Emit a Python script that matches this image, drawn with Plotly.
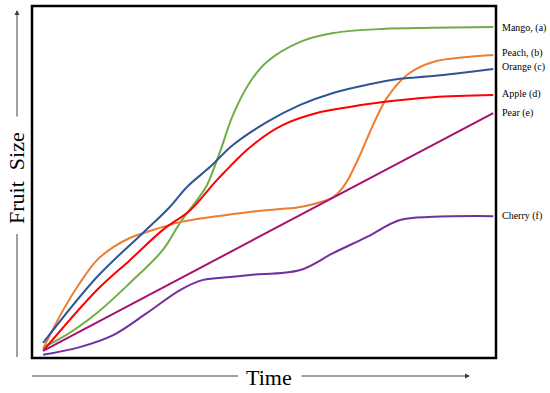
import plotly.graph_objects as go

# ---- data (time, size in 0-100 units) ----
mango_x = [2.4, 6.7, 14.0, 21.1, 28.2, 31.9, 35.6, 37.7, 40.5, 43.3, 47.0, 50.6, 57.8, 64.9, 75.6, 86.4, 99.4]
mango_y = [3.1, 6.0, 12.8, 21.3, 30.7, 38.4, 44.9, 49.1, 58.5, 69.0, 78.4, 84.1, 89.8, 92.3, 93.5, 93.8, 94.0]

peach_x = [2.4, 6.7, 10.3, 14.0, 17.5, 21.1, 24.8, 31.9, 39.0, 47.0, 53.4, 57.8, 64.9, 67.5, 70.7, 73.5, 76.5, 80.8, 86.4, 93.8, 99.4]
peach_y = [2.6, 13.6, 21.3, 27.8, 31.5, 34.1, 35.8, 38.6, 40.1, 41.5, 42.3, 42.9, 45.7, 49.4, 57.7, 66.2, 73.9, 80.4, 84.1, 85.5, 86.1]

orange_x = [2.4, 14.0, 23.9, 29.7, 33.4, 38.4, 43.3, 50.6, 57.8, 64.9, 72.2, 79.3, 86.4, 99.4]
orange_y = [4.3, 23.0, 35.5, 42.9, 48.6, 54.3, 60.5, 67.0, 71.9, 75.3, 77.6, 79.3, 80.1, 82.1]

apple_x = [2.4, 14.0, 21.1, 28.2, 34.1, 39.9, 47.0, 54.1, 61.4, 68.5, 75.6, 86.4, 99.4]
apple_y = [2.0, 19.3, 27.8, 36.4, 42.0, 50.6, 59.9, 66.2, 69.6, 71.3, 72.7, 74.1, 74.7]

pear_x = [2.4, 99.4]
pear_y = [2.0, 69.6]

cherry_x = [2.4, 10.3, 17.5, 24.8, 31.9, 36.9, 42.7, 47.0, 57.8, 64.9, 72.2, 79.3, 86.4, 99.4]
cherry_y = [0.9, 3.1, 6.5, 12.8, 19.3, 22.2, 23.0, 23.6, 25.0, 29.8, 34.4, 39.2, 40.1, 40.3]

series_names = ["Mango, (a)", "Peach, (b)", "Orange (c)", "Apple (d)", "Pear (e)", "Cherry (f)"]
label_y = [93.8, 86.6, 82.7, 75.0, 69.6, 40.3]

series = [
    (mango_x, mango_y, "#70AD47"),
    (peach_x, peach_y, "#ED7D31"),
    (orange_x, orange_y, "#2F5597"),
    (apple_x, apple_y, "#FF0000"),
    (pear_x, pear_y, "#A8126E"),
    (cherry_x, cherry_y, "#7030A0"),
]

fig = go.Figure()
for (xs, ys, col), name in zip(series, series_names):
    fig.add_trace(go.Scatter(x=xs, y=ys, mode="lines", name=name, hoverinfo="skip",
                             line=dict(color=col, width=2, shape="spline", smoothing=1.0)))

serif = "Liberation Serif, Times New Roman, serif"
for name, ly in zip(series_names, label_y):
    fig.add_annotation(x=1, xref="paper", y=ly, yref="y", text=name, showarrow=False,
                       xanchor="left", yanchor="middle", xshift=4,
                       font=dict(family=serif, size=10, color="#000"))

# plot border
fig.add_shape(type="rect", xref="paper", yref="paper", x0=0, x1=1, y0=0, y1=1,
              line=dict(color="#000", width=2.5))

arrow_col = "#404040"
# x axis arrow
fig.add_shape(type="line", xref="paper", yref="paper", x0=0.0, x1=(238 - 32) / 464,
              y0=(358 - 376) / 352, y1=(358 - 376) / 352, line=dict(color=arrow_col, width=1))
fig.add_annotation(xref="paper", yref="paper", x=(470 - 32) / 464, y=(358 - 376) / 352,
                   ax=-170, ay=0, showarrow=True, arrowhead=2, arrowsize=1, arrowwidth=1,
                   arrowcolor=arrow_col, text="")
fig.add_annotation(xref="paper", yref="paper", x=(269 - 32) / 464, y=(358 - 377) / 352,
                   xanchor="center", yanchor="middle",
                   text="Time", showarrow=False, font=dict(family=serif, size=22, color="#000"))
# y axis arrow
fig.add_shape(type="line", xref="paper", yref="paper", x0=(17 - 32) / 464, x1=(17 - 32) / 464,
              y0=(358 - 234) / 352, y1=(358 - 357) / 352, line=dict(color=arrow_col, width=1))
fig.add_annotation(xref="paper", yref="paper", x=(17 - 32) / 464, y=(358 - 10) / 352,
                   ax=0, ay=108, showarrow=True, arrowhead=2, arrowsize=1, arrowwidth=1,
                   arrowcolor=arrow_col, text="")
fig.add_annotation(xref="paper", yref="paper", x=(16 - 32) / 464, y=(358 - 178) / 352,
                   xanchor="center", yanchor="middle",
                   text="Fruit  Size", textangle=-90, showarrow=False,
                   font=dict(family=serif, size=22, color="#000"))

fig.update_layout(
    width=550, height=393,
    margin=dict(l=32, r=54, t=6, b=35, autoexpand=False),
    paper_bgcolor="white", plot_bgcolor="white",
    showlegend=False,
    xaxis=dict(range=[0, 100], showgrid=False, zeroline=False, showticklabels=False, ticks=""),
    yaxis=dict(range=[0, 100], showgrid=False, zeroline=False, showticklabels=False, ticks=""),
)
fig.write_html("out.html", config={"displayModeBar": False},
               post_script="document.body.style.margin='0';document.body.style.overflow='hidden';")
